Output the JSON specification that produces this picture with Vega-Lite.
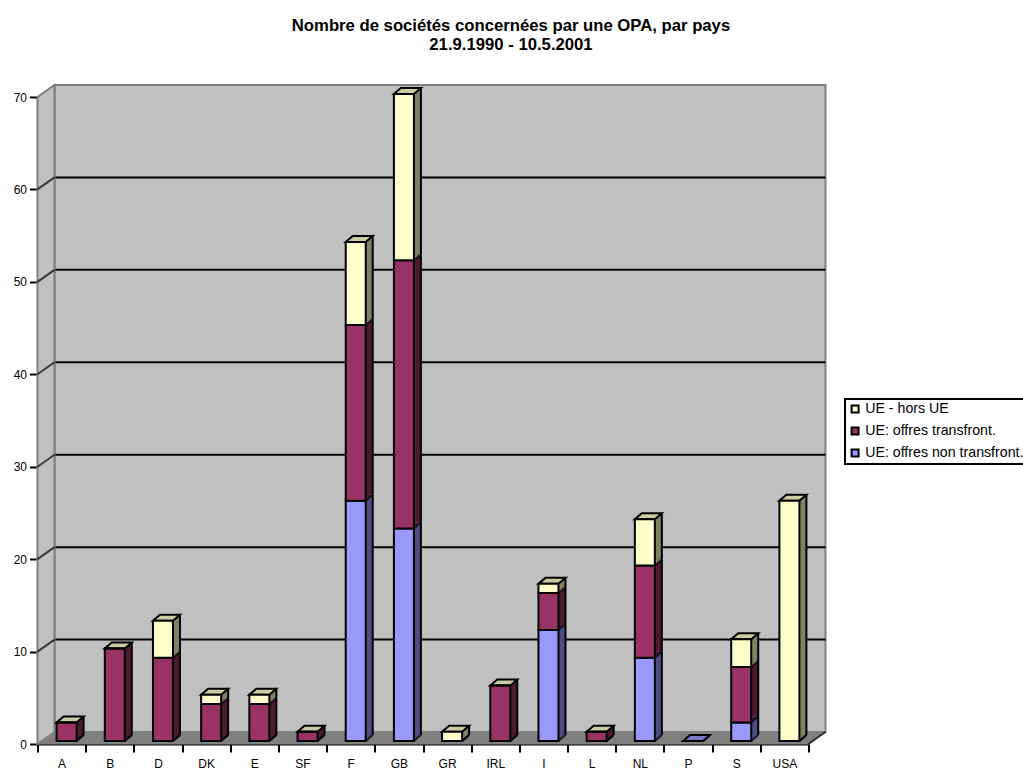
{
  "$schema": "https://vega.github.io/schema/vega-lite/v6.json",
  "width": 771,
  "height": 647,
  "autosize": "none",
  "padding": {"left": 37.5, "top": 97, "right": 214.5, "bottom": 25},
  "background": "white",
  "config": {
    "view": {"stroke": null},
    "font": "Liberation Sans",
    "axis": {"labelFont": "Liberation Sans", "labelColor": "black", "labelFontSize": 12, "grid": false, "title": null},
    "legend": {"strokeWidth": 2}
  },
  "title": {
    "text": ["Nombre de sociétés concernées par une OPA, par pays", "21.9.1990 - 10.5.2001"],
    "font": "Liberation Sans",
    "fontSize": 16.7,
    "fontWeight": "bold",
    "color": "black",
    "anchor": "middle",
    "frame": "group",
    "dx": 88,
    "offset": 27,
    "lineHeight": 19.5
  },
  "data": {
    "values": [
      {"pays": "A", "serie": "UE: offres non transfront.", "n": 0},
      {"pays": "A", "serie": "UE: offres transfront.", "n": 2},
      {"pays": "A", "serie": "UE - hors UE", "n": 0},
      {"pays": "B", "serie": "UE: offres non transfront.", "n": 0},
      {"pays": "B", "serie": "UE: offres transfront.", "n": 10},
      {"pays": "B", "serie": "UE - hors UE", "n": 0},
      {"pays": "D", "serie": "UE: offres non transfront.", "n": 0},
      {"pays": "D", "serie": "UE: offres transfront.", "n": 9},
      {"pays": "D", "serie": "UE - hors UE", "n": 4},
      {"pays": "DK", "serie": "UE: offres non transfront.", "n": 0},
      {"pays": "DK", "serie": "UE: offres transfront.", "n": 4},
      {"pays": "DK", "serie": "UE - hors UE", "n": 1},
      {"pays": "E", "serie": "UE: offres non transfront.", "n": 0},
      {"pays": "E", "serie": "UE: offres transfront.", "n": 4},
      {"pays": "E", "serie": "UE - hors UE", "n": 1},
      {"pays": "SF", "serie": "UE: offres non transfront.", "n": 0},
      {"pays": "SF", "serie": "UE: offres transfront.", "n": 1},
      {"pays": "SF", "serie": "UE - hors UE", "n": 0},
      {"pays": "F", "serie": "UE: offres non transfront.", "n": 26},
      {"pays": "F", "serie": "UE: offres transfront.", "n": 19},
      {"pays": "F", "serie": "UE - hors UE", "n": 9},
      {"pays": "GB", "serie": "UE: offres non transfront.", "n": 23},
      {"pays": "GB", "serie": "UE: offres transfront.", "n": 29},
      {"pays": "GB", "serie": "UE - hors UE", "n": 18},
      {"pays": "GR", "serie": "UE: offres non transfront.", "n": 0},
      {"pays": "GR", "serie": "UE: offres transfront.", "n": 0},
      {"pays": "GR", "serie": "UE - hors UE", "n": 1},
      {"pays": "IRL", "serie": "UE: offres non transfront.", "n": 0},
      {"pays": "IRL", "serie": "UE: offres transfront.", "n": 6},
      {"pays": "IRL", "serie": "UE - hors UE", "n": 0},
      {"pays": "I", "serie": "UE: offres non transfront.", "n": 12},
      {"pays": "I", "serie": "UE: offres transfront.", "n": 4},
      {"pays": "I", "serie": "UE - hors UE", "n": 1},
      {"pays": "L", "serie": "UE: offres non transfront.", "n": 0},
      {"pays": "L", "serie": "UE: offres transfront.", "n": 1},
      {"pays": "L", "serie": "UE - hors UE", "n": 0},
      {"pays": "NL", "serie": "UE: offres non transfront.", "n": 9},
      {"pays": "NL", "serie": "UE: offres transfront.", "n": 10},
      {"pays": "NL", "serie": "UE - hors UE", "n": 5},
      {"pays": "P", "serie": "UE: offres non transfront.", "n": 0},
      {"pays": "S", "serie": "UE: offres non transfront.", "n": 2},
      {"pays": "S", "serie": "UE: offres transfront.", "n": 6},
      {"pays": "S", "serie": "UE - hors UE", "n": 3},
      {"pays": "USA", "serie": "UE: offres non transfront.", "n": 0},
      {"pays": "USA", "serie": "UE: offres transfront.", "n": 0},
      {"pays": "USA", "serie": "UE - hors UE", "n": 26}
    ]
  },
  "transform": [
    {"stack": "n", "groupby": ["pays"], "as": ["bas", "haut"]}
  ],
  "encoding": {
    "x": {
      "field": "pays",
      "type": "nominal",
      "sort": ["A", "B", "D", "DK", "E", "SF", "F", "GB", "GR", "IRL", "I", "L", "NL", "P", "S", "USA"],
      "scale": {"type": "band", "paddingInner": 0, "paddingOuter": 0},
      "axis": {
        "tickBand": "extent",
        "labelAngle": 0,
        "tickSize": 8,
        "tickWidth": 2,
        "tickColor": "black",
        "domainColor": "black",
        "domainWidth": 2,
        "labelPadding": 6
      }
    }
  },
  "layer": [
    {
      "description": "Back wall",
      "data": {"values": [{"pays": "A", "v": 0}]},
      "mark": {"type": "point", "shape": "M17 -12L788 -12L788 -659L17 -659Z", "size": 4, "filled": true, "fill": "#c0c0c0", "fillOpacity": 1, "stroke": "#808080", "strokeWidth": 2, "xOffset": -24.1},
      "encoding": {
        "y": {
          "field": "v",
          "type": "quantitative",
          "scale": {"domain": [0, 70], "nice": false},
          "axis": {
            "values": [0, 10, 20, 30, 40, 50, 60, 70],
            "tickSize": 8,
            "tickWidth": 2,
            "tickColor": "black",
            "domainColor": "black",
            "domainWidth": 2,
            "labelPadding": 3
          }
        }
      }
    },
    {
      "description": "Horizontal gridlines on the back wall",
      "data": {"values": [{"v": 10}, {"v": 20}, {"v": 30}, {"v": 40}, {"v": 50}, {"v": 60}]},
      "mark": {"type": "rule", "color": "black", "strokeWidth": 2, "xOffset": 17, "x2Offset": 17, "yOffset": -12},
      "encoding": {"x": null, "y": {"field": "v", "type": "quantitative"}}
    },
    {
      "description": "Floor",
      "data": {"values": [{"pays": "A", "v": 0}]},
      "mark": {"type": "point", "shape": "M0 0L771 0L788 -12L17 -12Z", "size": 4, "filled": true, "fill": "#808080", "fillOpacity": 1, "stroke": "#808080", "strokeWidth": 1, "xOffset": -24.1},
      "encoding": {"y": {"field": "v", "type": "quantitative"}}
    },
    {
      "description": "Left wall",
      "data": {"values": [{"pays": "A", "v": 0}]},
      "mark": {"type": "point", "shape": "M0 0L17 -12L17 -659L0 -647Z", "size": 4, "filled": true, "fill": "#c0c0c0", "fillOpacity": 1, "stroke": "#808080", "strokeWidth": 2, "xOffset": -24.1},
      "encoding": {"y": {"field": "v", "type": "quantitative"}}
    },
    {
      "description": "Gridlines continuing across the left wall",
      "data": {"values": [{"pays": "A", "v": 10}, {"pays": "A", "v": 20}, {"pays": "A", "v": 30}, {"pays": "A", "v": 40}, {"pays": "A", "v": 50}, {"pays": "A", "v": 60}]},
      "mark": {"type": "point", "shape": "M0 0L17 -12", "size": 4, "filled": false, "stroke": "black", "strokeOpacity": 1, "strokeWidth": 2, "xOffset": -24.1},
      "encoding": {"y": {"field": "v", "type": "quantitative"}}
    },
    {
      "description": "Right end of the floor edge",
      "data": {"values": [{"pays": "USA", "v": 0}]},
      "mark": {"type": "point", "shape": "M0 0L17 -12", "size": 4, "filled": false, "stroke": "black", "strokeOpacity": 1, "strokeWidth": 2, "xOffset": 24.1},
      "encoding": {"y": {"field": "v", "type": "quantitative"}}
    },
    {
      "description": "Side faces of the bar segments",
      "mark": {"type": "bar", "width": 7, "xOffset": 18.5, "yOffset": -9, "y2Offset": -9, "strokeWidth": 0},
      "encoding": {
        "y": {"field": "bas", "type": "quantitative"},
        "y2": {"field": "haut"},
        "color": {
          "field": "serie",
          "type": "nominal",
          "legend": null,
          "scale": {"domain": ["UE - hors UE", "UE: offres transfront.", "UE: offres non transfront."], "range": ["#808066", "#4d1a33", "#4d4d80"]}
        }
      }
    },
    {
      "description": "Slanted foot of each side face",
      "mark": {"type": "point", "shape": "M0 0L7 -6L0 -6Z", "size": 4, "filled": true, "opacity": 1, "strokeWidth": 0, "xOffset": 15, "yOffset": -3},
      "encoding": {
        "y": {"field": "bas", "type": "quantitative"},
        "color": {
          "field": "serie",
          "type": "nominal",
          "legend": null,
          "scale": {"domain": ["UE - hors UE", "UE: offres transfront.", "UE: offres non transfront."], "range": ["#808066", "#4d1a33", "#4d4d80"]}
        }
      }
    },
    {
      "description": "Slanted outline between side faces",
      "mark": {"type": "point", "shape": "M0 0L7 -6", "size": 4, "filled": false, "stroke": "black", "strokeOpacity": 1, "strokeWidth": 2, "xOffset": 15, "yOffset": -3},
      "encoding": {"y": {"field": "bas", "type": "quantitative"}}
    },
    {
      "description": "Back vertical edge of each bar",
      "mark": {"type": "rule", "color": "black", "strokeWidth": 2, "xOffset": 22, "yOffset": -9, "y2Offset": -9},
      "encoding": {"y": {"field": "bas", "type": "quantitative"}, "y2": {"field": "haut"}}
    },
    {
      "description": "Top face, on the last segment of each stack",
      "transform": [{"filter": "datum.serie === 'UE - hors UE' || datum.pays === 'P'"}],
      "mark": {"type": "point", "shape": "M-10 0L10 0L17 -6L-3 -6Z", "size": 4, "filled": true, "opacity": 1, "stroke": "black", "strokeWidth": 2, "xOffset": 5, "yOffset": -3},
      "encoding": {
        "y": {"field": "haut", "type": "quantitative"},
        "color": {
          "field": "serie",
          "type": "nominal",
          "legend": null,
          "scale": {"domain": ["UE - hors UE", "UE: offres transfront.", "UE: offres non transfront."], "range": ["#cccca3", "#7a2952", "#7a7acc"]}
        }
      }
    },
    {
      "description": "Front faces of the bar segments",
      "mark": {"type": "bar", "width": 20, "xOffset": 5, "yOffset": -3, "y2Offset": -3, "stroke": "black", "strokeWidth": 2},
      "encoding": {
        "y": {"field": "bas", "type": "quantitative"},
        "y2": {"field": "haut"},
        "color": {
          "field": "serie",
          "type": "nominal",
          "scale": {"domain": ["UE - hors UE", "UE: offres transfront.", "UE: offres non transfront."], "range": ["#ffffcc", "#993366", "#9999ff"]},
          "legend": {
            "orient": "none",
            "legendX": 807.5,
            "legendY": 302,
            "title": null,
            "symbolType": "square",
            "symbolSize": 49,
            "symbolStrokeColor": "black",
            "symbolStrokeWidth": 2,
            "labelFont": "Liberation Sans",
            "labelFontSize": 14.2,
            "labelColor": "black",
            "labelLimit": 400,
            "labelOffset": 3,
            "rowPadding": 6,
            "padding": 3,
            "strokeColor": "black",
            "fillColor": "white"
          }
        }
      }
    }
  ],
  "resolve": {"scale": {"color": "independent"}}
}
